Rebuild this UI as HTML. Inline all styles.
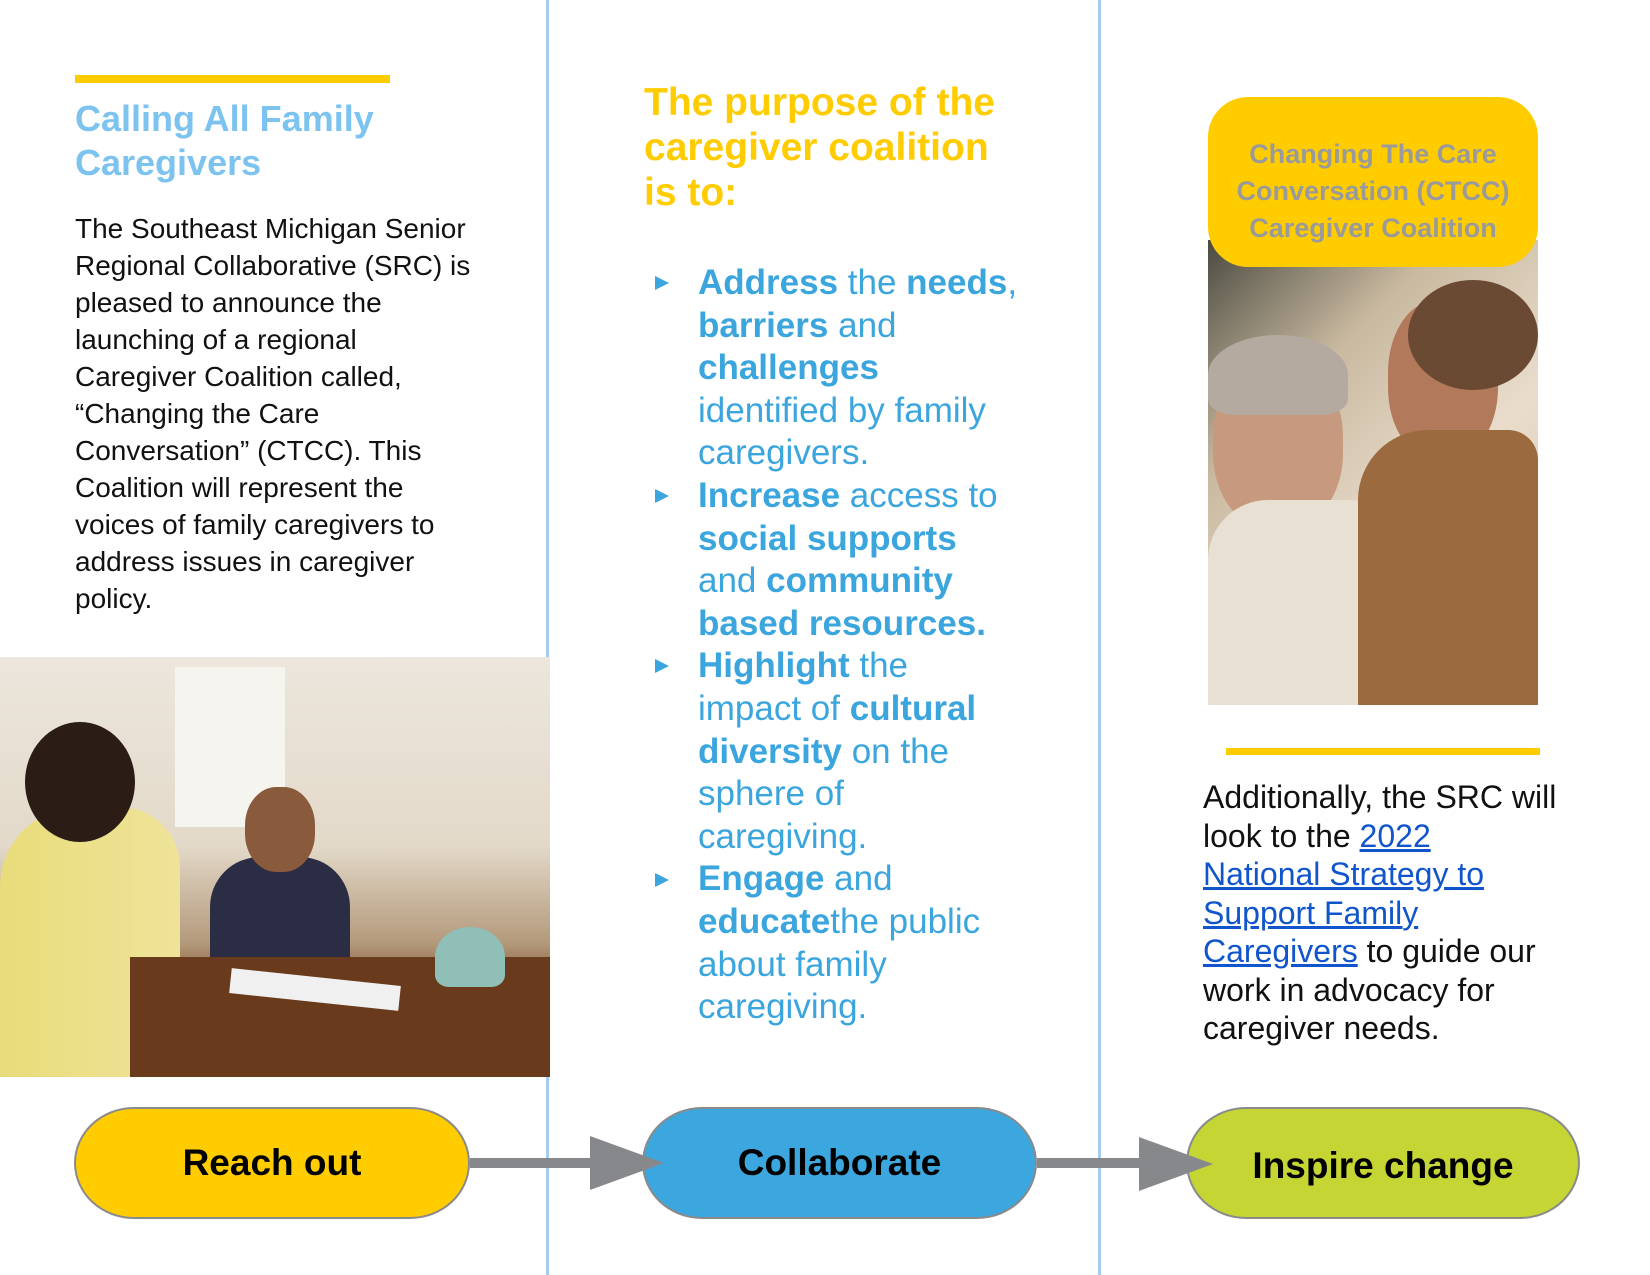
<!DOCTYPE html>
<html><head><meta charset="utf-8"><style>
*{margin:0;padding:0;box-sizing:border-box}
body{width:1650px;height:1275px;position:relative;background:#fff;font-family:"Liberation Sans",sans-serif;overflow:hidden}
.a{position:absolute}
.div{position:absolute;top:0;width:3px;height:1275px;background:#a3cdf1}
.bar{position:absolute;background:#ffcc00}
.h1{left:75px;top:97px;font-size:36px;font-weight:bold;color:#7cc3f0;line-height:44px}
.body{left:75px;top:210px;font-size:28px;line-height:37px;color:#111;white-space:nowrap}
.mh{left:644px;top:80px;font-size:39px;font-weight:bold;color:#ffcc00;line-height:45px}
.bl{left:698px;top:262px;font-size:35px;line-height:42.6px;color:#3ba5de;white-space:nowrap}
.bl b{font-weight:bold}
.tri{position:absolute;width:0;height:0;border-top:7px solid transparent;border-bottom:7px solid transparent;border-left:14px solid #3ba5de;left:655px}
.rb{left:1208px;top:97px;width:330px;height:170px;background:#ffcc00;border-radius:40px;color:#9a9a9a;font-weight:bold;font-size:27px;line-height:37px;text-align:center;padding-top:39px}
.rt{left:1203px;top:778px;font-size:32px;line-height:38.5px;color:#111;white-space:nowrap}
.rt a{color:#1155cc;text-decoration:underline}
.pill{position:absolute;top:1107px;height:112px;border:2px solid #8a8a8a;border-radius:60px/56px;display:flex;align-items:center;justify-content:center;font-weight:bold;font-size:37px;color:#000}
</style></head><body>
<div class="div" style="left:546px"></div>
<div class="div" style="left:1098px"></div>
<div class="bar" style="left:75px;top:75px;width:315px;height:8px"></div>
<div class="a h1">Calling All Family<br>Caregivers</div>
<div class="a body">The Southeast Michigan Senior<br>Regional Collaborative (SRC) is<br>pleased to announce the<br>launching of a regional<br>Caregiver Coalition called,<br>“Changing the Care<br>Conversation” (CTCC). This<br>Coalition will represent the<br>voices of family caregivers to<br>address issues in caregiver<br>policy.</div>
<!-- left photo -->
<div class="a" style="left:0;top:657px;width:550px;height:420px;background:linear-gradient(180deg,#ece6dc 0%,#e3d9c9 45%,#b49a7c 68%,#7a4a26 80%,#5a3418 100%);overflow:hidden">
 <div class="a" style="left:175px;top:10px;width:110px;height:160px;background:#f6f4ef"></div>
 <div class="a" style="left:0;top:150px;width:180px;height:270px;background:linear-gradient(90deg,#e8dc7a,#efe39a);border-radius:80px 60px 0 0"></div>
 <div class="a" style="left:25px;top:65px;width:110px;height:120px;background:#2b1d15;border-radius:50%"></div>
 <div class="a" style="left:210px;top:200px;width:140px;height:110px;background:#2a2d44;border-radius:50px 50px 0 0"></div>
 <div class="a" style="left:245px;top:130px;width:70px;height:85px;background:#8a5a3c;border-radius:45%"></div>
 <div class="a" style="left:130px;top:300px;width:422px;height:120px;background:#6a3a1c"></div>
 <div class="a" style="left:435px;top:270px;width:70px;height:60px;background:#8fbfb7;border-radius:50% 50% 20% 20%"></div>
 <div class="a" style="left:230px;top:320px;width:170px;height:25px;background:#f0f0f0;transform:rotate(6deg)"></div>
</div>
<!-- middle -->
<div class="a mh">The purpose of the<br>caregiver coalition<br>is to:</div>
<div class="tri" style="top:276px"></div>
<div class="tri" style="top:489px"></div>
<div class="tri" style="top:659px"></div>
<div class="tri" style="top:873px"></div>
<div class="a bl"><b>Address</b> the <b>needs</b>,<br><b>barriers</b> and<br><b>challenges</b><br>identified by family<br>caregivers.<br><b>Increase</b> access to<br><b>social supports</b><br>and <b>community</b><br><b>based resources.</b><br><b>Highlight</b> the<br>impact of <b>cultural</b><br><b>diversity</b> on the<br>sphere of<br>caregiving.<br><b>Engage</b> and<br><b>educate</b>the public<br>about family<br>caregiving.</div>
<!-- right -->
<div class="a" style="left:1208px;top:240px;width:330px;height:465px;background:linear-gradient(135deg,#4a4a40 0%,#c9b9a0 30%,#e9dccb 60%,#d9c5ab 100%);overflow:hidden">
 <div class="a" style="left:5px;top:120px;width:130px;height:170px;background:#c79a80;border-radius:45%"></div>
 <div class="a" style="left:0;top:95px;width:140px;height:80px;background:#b5aaa0;border-radius:50% 50% 20% 20%"></div>
 <div class="a" style="left:0;top:260px;width:200px;height:210px;background:#e8e0d2;border-radius:60px 60px 0 0"></div>
 <div class="a" style="left:180px;top:60px;width:110px;height:160px;background:#b27a5a;border-radius:45%"></div>
 <div class="a" style="left:200px;top:40px;width:130px;height:110px;background:#6b4a34;border-radius:50%"></div>
 <div class="a" style="left:150px;top:190px;width:180px;height:275px;background:#9b6a3e;border-radius:70px 30px 0 0"></div>
</div>
<div class="a rb">Changing The Care<br>Conversation (CTCC)<br>Caregiver Coalition</div>
<div class="bar" style="left:1226px;top:748px;width:314px;height:7px"></div>
<div class="a rt">Additionally, the SRC will<br>look to the <a>2022</a><br><a>National Strategy to</a><br><a>Support Family</a><br><a>Caregivers</a> to guide our<br>work in advocacy for<br>caregiver needs.</div>
<!-- flow -->
<div class="pill" style="left:74px;width:396px;background:#ffcc00">Reach out</div>
<div class="pill" style="left:642px;width:395px;background:#3ca6de">Collaborate</div>
<div class="pill" style="left:1186px;width:394px;background:#c4d534;padding-top:6px">Inspire change</div>
<svg class="a" style="left:0;top:0" width="1650" height="1275">
 <rect x="470" y="1158" width="122" height="10" fill="#87888c"/>
 <polygon points="590,1136 664,1163 590,1190" fill="#87888c"/>
 <rect x="1037" y="1158" width="104" height="10" fill="#87888c"/>
 <polygon points="1139,1137 1213,1164 1139,1191" fill="#87888c"/>
</svg>
</body></html>
